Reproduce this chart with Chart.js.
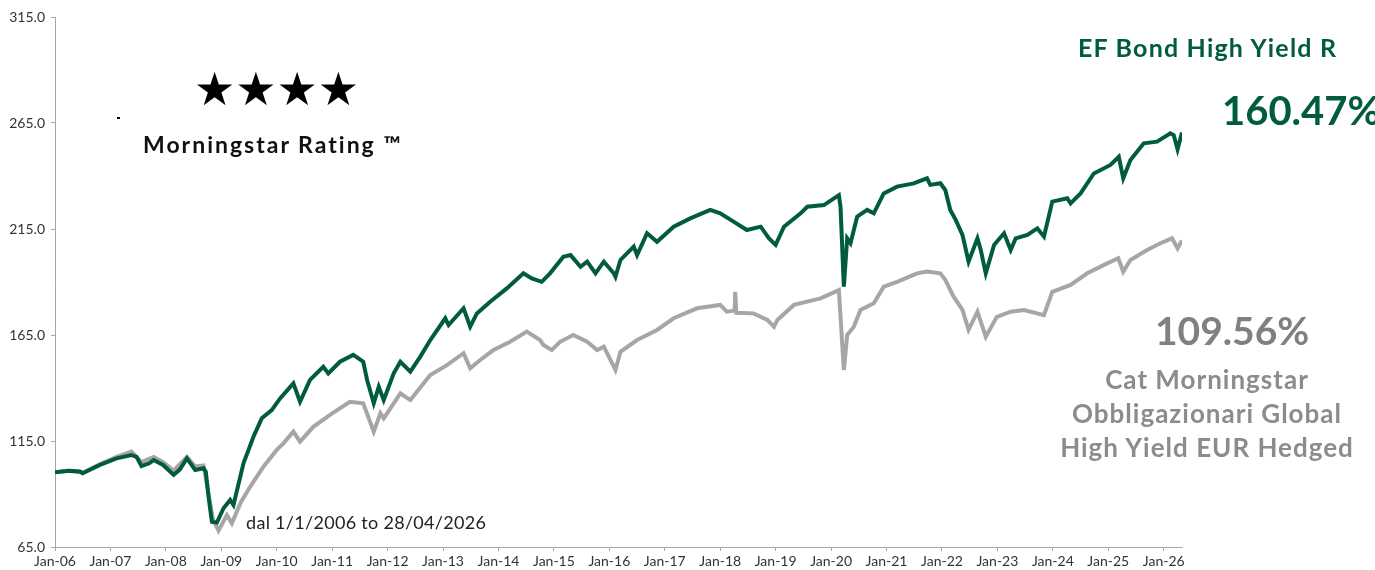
<!DOCTYPE html>
<html>
<head>
<meta charset="utf-8">
<script src="https://cdn.jsdelivr.net/npm/chart.js@4.4.1/dist/chart.umd.min.js"></script>
<style>
    body { margin: 0; background: #fff; }
    #wrap { position: relative; width: 1375px; height: 570px; }
    .lbl { position: absolute; white-space: nowrap; font-family: "Lato", "Open Sans", sans-serif; line-height: 1; }
</style>
</head>
<body>
<div id="wrap">
    <canvas id="myLineChart" width="1375" height="570"></canvas>
    <div class="lbl" style="left:194px; top:66px; font-size:46px; color:#000; font-family:'DejaVu Sans'; letter-spacing:0px;">★★★★</div>
    <div style="position:absolute; left:117px; top:117px; width:3px; height:2px; background:#000;"></div>
    <div class="lbl" style="left:143px; top:133px; font-size:23px; font-weight:bold; color:#111; letter-spacing:2px;">Morningstar Rating ™</div>
    <div class="lbl" style="left:1078px; top:35px; font-size:25px; font-weight:bold; color:#005c3c; letter-spacing:1.2px;">EF Bond High Yield R</div>
    <div class="lbl" style="left:1222px; top:90px; font-size:40px; font-weight:bold; color:#005c3c;">160.47%</div>
    <div class="lbl" style="left:1155px; top:311px; font-size:39px; font-weight:bold; color:#808080;">109.56%</div>
    <div class="lbl" style="left:1057px; top:362px; width:300px; text-align:center; font-size:26px; font-weight:bold; color:#8c8c8c; line-height:34px; letter-spacing:1px; white-space:normal;">Cat Morningstar<br>Obbligazionari Global<br>High Yield EUR Hedged</div>
    <div class="lbl" style="left:246px; top:513px; font-size:18px; color:#222; letter-spacing:0.3px;">dal 1/1/2006 to 28/04/2026</div>
</div>
<script>
// 날짜 (소수 연도) 및 값 - 그림에서 읽은 값
const fundYears = [2006.00, 2006.25, 2006.45, 2006.50, 2006.81, 2007.11, 2007.38, 2007.47, 2007.56, 2007.70, 2007.78, 2007.95,
    2008.14, 2008.25, 2008.38, 2008.53, 2008.68, 2008.72, 2008.77, 2008.83, 2008.92, 2009.04, 2009.16, 2009.22, 2009.40,
    2009.58, 2009.73, 2009.91, 2010.06, 2010.30, 2010.42, 2010.60, 2010.84, 2010.93, 2011.14, 2011.38, 2011.56, 2011.63,
    2011.75, 2011.84, 2011.93, 2012.11, 2012.23, 2012.41, 2012.59, 2012.77, 2013.04, 2013.10, 2013.37, 2013.49, 2013.61,
    2013.85, 2014.15, 2014.45, 2014.60, 2014.78, 2014.93, 2015.17, 2015.30, 2015.48, 2015.60, 2015.75, 2015.90, 2016.08,
    2016.11, 2016.20, 2016.44, 2016.50, 2016.68, 2016.86, 2017.16, 2017.46, 2017.82, 2018.00, 2018.24, 2018.48, 2018.73,
    2018.88, 2019.00, 2019.15, 2019.45, 2019.57, 2019.87, 2020.14, 2020.17, 2020.23, 2020.29, 2020.35, 2020.47, 2020.65,
    2020.77, 2020.95, 2021.19, 2021.49, 2021.73, 2021.79, 2021.97, 2022.06, 2022.15, 2022.25, 2022.37, 2022.48, 2022.64,
    2022.70, 2022.79, 2022.94, 2023.12, 2023.24, 2023.33, 2023.54, 2023.72, 2023.84, 2023.99, 2024.26, 2024.32, 2024.50,
    2024.74, 2025.04, 2025.19, 2025.27, 2025.40, 2025.64, 2025.88, 2026.12, 2026.18, 2026.25, 2026.33];
const fundValues = [100.3, 101.0, 100.6, 99.8, 103.7, 106.8, 108.4, 107.5, 103.2, 104.5, 106.0, 103.7,
    99.0, 101.5, 106.8, 101.3, 102.1, 100.5, 88.7, 76.9, 76.5, 83.3, 87.2, 84.8, 104.5,
    117.0, 125.7, 129.6, 135.1, 142.2, 133.5, 143.8, 150.0, 146.9, 152.4, 155.6, 152.4, 143.8,
    132.8, 140.6, 134.3, 146.9, 152.4, 147.7, 154.8, 162.6, 172.9, 169.7, 177.6, 168.9, 175.2,
    180.7, 187.0, 194.1, 191.7, 190.1, 194.1, 201.9, 202.7, 197.2, 199.6, 194.1, 199.6, 194.1,
    192.5, 200.4, 206.7, 202.7, 213.0, 209.0, 216.1, 220.0, 224.0, 222.4, 218.5, 214.5, 216.1,
    210.6, 207.5, 216.1, 222.4, 225.5, 226.3, 231.0, 225.5, 187.8, 210.6, 208.3, 220.8, 224.0,
    222.4, 231.8, 235.0, 236.5, 238.9, 235.8, 236.6, 233.4, 224.0, 219.2, 212.2, 199.6, 210.6,
    205.1, 194.1, 207.5, 213.0, 205.1, 210.6, 212.2, 215.3, 211.4, 227.9, 229.5, 227.1, 231.8,
    241.2, 245.2, 249.1, 238.9, 247.5, 255.4, 256.2, 260.1, 259.3, 252.6, 260.5];

const catYears = [2006.00, 2006.25, 2006.50, 2006.81, 2007.11, 2007.38, 2007.56, 2007.78, 2007.95, 2008.14, 2008.38,
    2008.53, 2008.68, 2008.75, 2008.85, 2008.95, 2009.10, 2009.19, 2009.35, 2009.52, 2009.76, 2010.00, 2010.12, 2010.30,
    2010.42, 2010.66, 2011.00, 2011.32, 2011.56, 2011.75, 2011.87, 2011.93, 2012.23, 2012.41, 2012.77, 2013.07, 2013.37,
    2013.49, 2013.67, 2013.91, 2014.21, 2014.51, 2014.75, 2014.81, 2014.96, 2015.11, 2015.35, 2015.60, 2015.78, 2015.90,
    2016.11, 2016.20, 2016.50, 2016.86, 2017.16, 2017.58, 2018.00, 2018.12, 2018.26, 2018.27, 2018.29, 2018.60, 2018.85,
    2018.97, 2019.03, 2019.33, 2019.81, 2020.14, 2020.23, 2020.29, 2020.41, 2020.53, 2020.77, 2020.95, 2021.19, 2021.55,
    2021.73, 2021.97, 2022.06, 2022.21, 2022.37, 2022.48, 2022.64, 2022.79, 2022.99, 2023.24, 2023.48, 2023.84, 2023.99,
    2024.32, 2024.62, 2024.98, 2025.18, 2025.27, 2025.40, 2025.70, 2025.94, 2026.15, 2026.25, 2026.33];
const catValues = [100.3, 101.0, 100.0, 104.0, 107.5, 110.0, 105.0, 107.5, 105.0, 101.0, 107.5,
    103.0, 103.5, 93.0, 78.0, 72.7, 80.1, 76.2, 86.0, 93.4, 102.9, 110.8, 113.9, 119.4,
    114.7, 121.7, 128.0, 133.5, 132.8, 119.4, 128.1, 125.7, 137.5, 134.3, 146.1, 150.8, 156.4,
    149.3, 153.2, 157.9, 161.8, 166.6, 162.6, 160.3, 157.9, 161.8, 165.0, 161.8, 157.9, 159.5,
    148.5, 157.1, 162.6, 167.4, 172.9, 177.6, 179.2, 176.0, 176.5, 185.4, 175.5, 175.2, 172.1,
    168.9, 172.1, 179.2, 182.3, 186.2, 148.5, 165.0, 168.9, 176.8, 180.0, 187.8, 190.1, 194.1,
    194.9, 194.1, 191.0, 183.1, 176.8, 167.4, 176.0, 164.2, 173.6, 176.0, 176.8, 174.4, 185.4,
    188.6, 194.1, 198.8, 201.2, 194.9, 200.4, 205.1, 208.3, 210.6, 205.9, 209.6];

const yTicks = [65, 115, 165, 215, 265, 315];
const xTickYears = [2006, 2007, 2008, 2009, 2010, 2011, 2012, 2013, 2014, 2015, 2016,
    2017, 2018, 2019, 2020, 2021, 2022, 2023, 2024, 2025, 2026];

function toPoints(xs, ys) {
    return xs.map(function (x, i) { return { x: x, y: ys[i] }; });
}

const ctx = document.getElementById('myLineChart').getContext('2d');
new Chart(ctx, {
    type: 'line',
    data: {
        datasets: [{
            label: 'EF Bond High Yield R',
            data: toPoints(fundYears, fundValues),
            borderColor: '#005c3c',
            borderWidth: 4,
            pointRadius: 0,
            tension: 0,
            order: 1
        }, {
            label: 'Cat Morningstar Obbligazionari Global High Yield EUR Hedged',
            data: toPoints(catYears, catValues),
            borderColor: '#a6a6a6',
            borderWidth: 4,
            pointRadius: 0,
            tension: 0,
            order: 2
        }]
    },
    options: {
        responsive: false,
        animation: false,
        layout: { padding: { left: 0, top: 17, right: 193, bottom: 0 } },
        plugins: {
            legend: { display: false },
            tooltip: { enabled: false }
        },
        scales: {
            x: {
                type: 'linear',
                min: 2006,
                max: 2026.33,
                afterBuildTicks: function (axis) {
                    axis.ticks = xTickYears.map(function (v) { return { value: v }; });
                },
                afterFit: function (axis) { axis.height = 23; },
                grid: { drawOnChartArea: false, drawTicks: true, tickLength: 4, color: '#a6a6a6' },
                border: { color: '#a6a6a6', width: 1 },
                ticks: {
                    autoSkip: false,
                    maxRotation: 0,
                    padding: 2,
                    color: '#333',
                    font: { family: 'Lato', size: 14 },
                    callback: function (v) { return 'Jan-' + String(v).slice(2); }
                }
            },
            y: {
                min: 65,
                max: 315,
                afterBuildTicks: function (axis) {
                    axis.ticks = yTicks.map(function (v) { return { value: v }; });
                },
                afterFit: function (axis) { axis.width = 55; },
                grid: { drawOnChartArea: false, drawTicks: true, tickLength: 4, color: '#a6a6a6' },
                border: { color: '#a6a6a6', width: 1 },
                ticks: {
                    padding: 6,
                    color: '#333',
                    font: { family: 'Lato', size: 14 },
                    callback: function (v) { return v.toFixed(1); }
                }
            }
        }
    }
});
</script>
</body>
</html>
